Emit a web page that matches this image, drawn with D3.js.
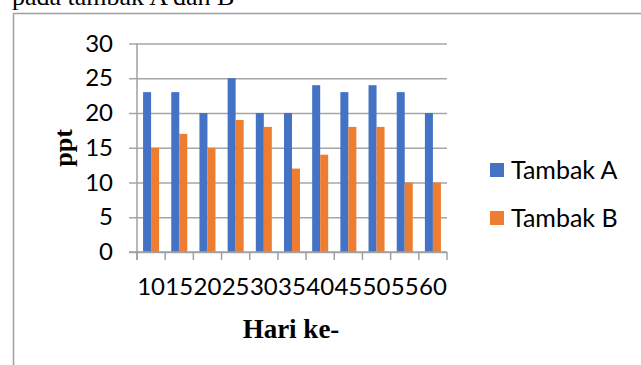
<!DOCTYPE html>
<html>
<head>
<meta charset="utf-8">
<script src="https://cdn.jsdelivr.net/npm/d3@7/dist/d3.min.js"></script>
<style>
  html, body { margin: 0; padding: 0; background: #fff; }
  svg { display: block; }
</style>
</head>
<body>
<script>
// Salinitas (ppt) per hari pengamatan
const days = ["10", "15", "20", "25", "30", "35", "40", "45", "50", "55", "60"];
const seriesNames = ["Tambak A", "Tambak B"];
const tambakA = [23, 23, 20, 25, 20, 20, 24, 23, 24, 23, 20];
const tambakB = [15, 17, 15, 19, 18, 12, 14, 18, 18, 10, 10];
const yTicks = [0, 5, 10, 15, 20, 25, 30];
const colors = ["#4472C4", "#ED7D31"];

const W = 641, H = 365;
const plot = { left: 137, right: 447, top: 43.5, bottom: 252 };
const labelFont = "Lato, 'Open Sans', sans-serif";
const serif = "'Liberation Serif', 'DejaVu Serif', serif";

const svg = d3.select("body").append("svg").attr("width", W).attr("height", H);

// caption text partly above the frame
svg.append("text")
  .attr("x", 12).attr("y", 5)
  .attr("font-family", serif).attr("font-size", 26)
  .attr("fill", "#000")
  .text("pada tambak A dan B");

// chart frame (top and left edges visible)
svg.append("path")
  .attr("d", `M13.5,${H} V13.5 H${W}`)
  .attr("fill", "none").attr("stroke", "#a0a0a0").attr("stroke-width", 1.5);

const x0 = d3.scaleBand().domain(days).range([plot.left, plot.right]).padding(0);
const x1 = d3.scaleBand().domain(seriesNames).range([0, x0.bandwidth()])
  .paddingInner(0).paddingOuter(0.76);
const y = d3.scaleLinear().domain([0, 30]).range([plot.bottom, plot.top]);

// gridlines + y tick labels
const yAxis = d3.axisLeft(y).tickValues(yTicks)
  .tickSizeInner(-(plot.right - plot.left + 8)).tickSizeOuter(0).tickPadding(16);
const gy = svg.append("g").attr("transform", `translate(${plot.left - 8},0)`).call(yAxis);
gy.select(".domain").remove();
gy.selectAll(".tick line").attr("stroke", "#a6a6a6").attr("stroke-width", 1.5);
gy.selectAll(".tick text")
  .attr("font-family", labelFont).attr("font-size", 24).attr("fill", "#000");

// bars
const rows = days.map((d, i) => ({ day: d, values: [tambakA[i], tambakB[i]] }));
const groups = svg.append("g").selectAll("g").data(rows).join("g")
  .attr("transform", d => `translate(${x0(d.day)},0)`);
groups.selectAll("rect")
  .data(d => d.values.map((v, j) => ({ name: seriesNames[j], v, j })))
  .join("rect")
  .attr("x", d => x1(d.name))
  .attr("width", x1.bandwidth())
  .attr("y", d => y(d.v))
  .attr("height", d => y(0) - y(d.v))
  .attr("fill", d => colors[d.j]);

// vertical axis line
svg.append("line")
  .attr("x1", plot.left).attr("x2", plot.left)
  .attr("y1", plot.top).attr("y2", plot.bottom + 8)
  .attr("stroke", "#a0a0a0").attr("stroke-width", 1.5);

// category axis: baseline and boundary ticks
svg.append("line")
  .attr("x1", plot.left - 8).attr("x2", plot.right)
  .attr("y1", plot.bottom).attr("y2", plot.bottom)
  .attr("stroke", "#a0a0a0").attr("stroke-width", 1.5);
const bounds = days.map(d => x0(d)).concat([plot.right]);
svg.append("g").selectAll("line").data(bounds).join("line")
  .attr("x1", d => d).attr("x2", d => d)
  .attr("y1", plot.bottom).attr("y2", plot.bottom + 8)
  .attr("stroke", "#a0a0a0").attr("stroke-width", 1.5);

svg.append("g").selectAll("text").data(days).join("text")
  .attr("x", d => x0(d) + x0.bandwidth() / 2)
  .attr("y", 295)
  .attr("text-anchor", "middle")
  .attr("font-family", labelFont).attr("font-size", 24).attr("fill", "#000")
  .text(d => d);

// axis titles
svg.append("text")
  .attr("transform", "translate(72,148) rotate(-90)")
  .attr("text-anchor", "middle")
  .attr("font-family", serif).attr("font-weight", "bold").attr("font-size", 26)
  .attr("fill", "#000")
  .text("ppt");
svg.append("text")
  .attr("x", 291).attr("y", 338)
  .attr("text-anchor", "middle")
  .attr("font-family", serif).attr("font-weight", "bold").attr("font-size", 27)
  .attr("fill", "#000")
  .text("Hari ke-");

// legend
const legend = svg.append("g").selectAll("g").data(seriesNames).join("g")
  .attr("transform", (d, i) => `translate(490,${170 + i * 48})`);
legend.append("rect")
  .attr("x", 0).attr("y", -7).attr("width", 14).attr("height", 14)
  .attr("fill", (d, i) => colors[i]);
legend.append("text")
  .attr("x", 21).attr("y", 0).attr("dy", "0.35em")
  .attr("font-family", labelFont).attr("font-size", 25).attr("fill", "#000")
  .text(d => d);
</script>
</body>
</html>
